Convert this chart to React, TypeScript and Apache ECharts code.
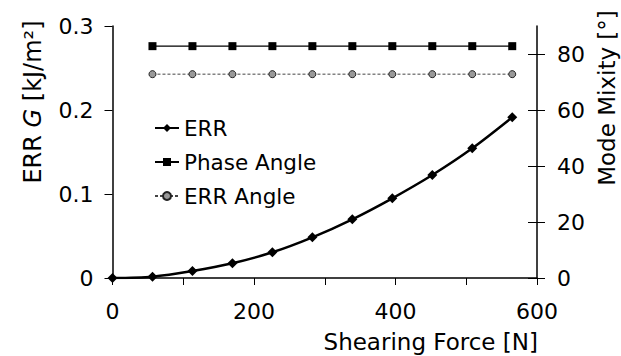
import React, { useEffect, useRef } from "react";
import * as echarts from "echarts";

const forceN = [0, 56.5, 113, 169.5, 226, 282.5, 339, 395.5, 452, 508.5, 565];
const errG = [0, 0.0016, 0.0083, 0.0175, 0.0306, 0.0484, 0.0699, 0.0949, 0.1226, 0.1544, 0.1913];
const phaseForce = [56.5, 113, 169.5, 226, 282.5, 339, 395.5, 452, 508.5, 565];
const phaseAngle = [82.8, 82.8, 82.8, 82.8, 82.8, 82.8, 82.8, 82.8, 82.8, 82.8];
const errAngle = [72.8, 72.8, 72.8, 72.8, 72.8, 72.8, 72.8, 72.8, 72.8, 72.8];
const xLabels = [0, 200, 400, 600];
const leftTicks = [0, 0.1, 0.2, 0.3];
const rightTicks = [0, 20, 40, 60, 80];

const FONT = "DejaVu Sans";
const INK = "#000";
const LBL = 22;
const TTL = 23;

export default function App() {
  const ref = useRef<HTMLDivElement>(null);
  useEffect(() => {
    if (!ref.current) return;
    const chart = echarts.init(ref.current, undefined, { renderer: "svg" });
    const pair = (xs: number[], ys: number[]) => xs.map((x, i) => [x, ys[i]]);
    chart.setOption({
      animation: false,
      backgroundColor: "#fff",
      textStyle: { fontFamily: FONT, color: INK },
      grid: { left: 112.5, right: 84, top: 26, bottom: 78, containLabel: false, outerBoundsMode: "none" },
      legend: {
        left: 149,
        top: 112,
        orient: "vertical",
        itemWidth: 24,
        itemHeight: 10,
        itemGap: 12,
        textStyle: { fontFamily: FONT, fontSize: 21.5, color: INK },
        data: ["ERR", "Phase Angle", "ERR Angle"],
      },
      xAxis: {
        type: "value",
        min: 0,
        max: 600,
        interval: 100,
        name: "Shearing Force [N]",
        nameLocation: "middle",
        nameGap: 52,
        nameTextStyle: { fontFamily: FONT, fontSize: TTL, color: INK, padding: [0, 0, 0, 212] },
        axisLine: { show: true, onZero: false, lineStyle: { color: INK, width: 1.5 } },
        axisTick: { show: true, inside: false, length: 7, lineStyle: { color: INK, width: 1 } },
        axisLabel: {
          customValues: xLabels,
          margin: 22,
          fontFamily: FONT,
          fontSize: LBL,
          color: INK,
        },
        splitLine: { show: false },
      },
      yAxis: [
        {
          type: "value",
          min: 0,
          max: 0.3,
          interval: 0.1,
          position: "left",
          name: "ERR {i|G} [kJ/m²]",
          nameLocation: "middle",
          nameGap: 68,
          nameRotate: 90,
          nameTextStyle: {
            fontFamily: FONT,
            fontSize: 24,
            color: INK,
            padding: [0, 0, 0, 100],
            rich: { i: { fontFamily: FONT, fontSize: 24, fontStyle: "italic", color: INK } },
          },
          axisLine: { show: true, lineStyle: { color: INK, width: 1.5 } },
          axisTick: { show: true, inside: false, length: 8, customValues: leftTicks, lineStyle: { color: INK, width: 1 } },
          axisLabel: { customValues: leftTicks, margin: 19, fontFamily: FONT, fontSize: LBL, color: INK },
          splitLine: { show: false },
        },
        {
          type: "value",
          min: 0,
          max: 90,
          interval: 10,
          position: "right",
          name: "Mode Mixity [°]",
          nameLocation: "middle",
          nameGap: 56,
          nameRotate: 90,
          nameTextStyle: { fontFamily: FONT, fontSize: TTL, color: INK, padding: [0, 0, 0, 108] },
          axisLine: { show: true, lineStyle: { color: INK, width: 1.5 } },
          axisTick: { show: true, inside: false, length: 8, customValues: rightTicks, lineStyle: { color: INK, width: 1 } },
          axisLabel: { customValues: rightTicks, margin: 20, fontFamily: FONT, fontSize: LBL, color: INK },
          splitLine: { show: false },
        },
        {
          type: "value",
          min: 0,
          max: 90,
          interval: 10,
          position: "right",
          axisLine: { show: false },
          axisTick: { show: true, inside: true, length: 9, customValues: rightTicks, lineStyle: { color: INK, width: 1 } },
          axisLabel: { show: false },
          splitLine: { show: false },
        },
      ],
      series: [
        {
          name: "ERR",
          type: "line",
          xAxisIndex: 0,
          yAxisIndex: 0,
          data: pair(forceN, errG),
          smooth: 0.3,
          symbol: "diamond",
          symbolSize: 10,
          itemStyle: { color: "#000" },
          lineStyle: { color: "#000", width: 2.5 },
        },
        {
          name: "Phase Angle",
          type: "line",
          xAxisIndex: 0,
          yAxisIndex: 1,
          data: pair(phaseForce, phaseAngle),
          symbol: "rect",
          symbolSize: 8,
          itemStyle: { color: "#000" },
          lineStyle: { color: "#000", width: 1.2 },
        },
        {
          name: "ERR Angle",
          type: "line",
          xAxisIndex: 0,
          yAxisIndex: 1,
          data: pair(phaseForce, errAngle),
          symbol: "circle",
          symbolSize: 7,
          itemStyle: { color: "#999", borderColor: "#222", borderWidth: 1 },
          lineStyle: { color: "#444", width: 1, type: [3, 2] },
        },
      ],
    });
    return () => chart.dispose();
  }, []);
  return <div ref={ref} style={{ width: 621, height: 356, position: "absolute", left: 0, top: 0 }} />;
}
